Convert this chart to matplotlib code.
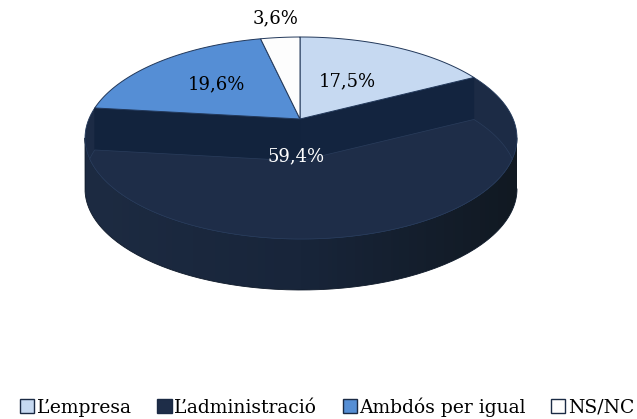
import numpy as np
import matplotlib.pyplot as plt
from matplotlib.patches import Polygon, Patch

categories = ["L’empresa", "L’administració", "Ambdós per igual", "NS/NC"]
values = [17.5, 59.4, 19.6, 3.6]
labels = ["17,5%", "59,4%", "19,6%", "3,6%"]
colors = ["#c6d9f1", "#1e2d48", "#558ed5", "#fdfdfd"]
label_colors = ["black", "white", "black", "black"]
label_r = [0.44, 0.38, 0.52, 1.0]
label_dx = [-2, -19, 0, 0]

# geometria del pastis 3D (pixels)
cx, cy = 301, 138      # centre de l'el.lipse superior
a, b = 216, 101
px, py = 300, 119      # vertex del pastis
wall = 42              # rebaix de la llesca gran
depth = 51             # gruix
edge = "#22385a"


def rim(theta):
    # punt on el raig des del vertex talla la vora
    dx = np.cos(theta) * a
    dy = -np.sin(theta) * b
    ox, oy = px - cx, py - cy
    A = (dx / a) ** 2 + (dy / b) ** 2
    B = 2 * (ox * dx / a**2 + oy * dy / b**2)
    C = (ox / a) ** 2 + (oy / b) ** 2 - 1
    t = (-B + np.sqrt(B * B - 4 * A * C)) / (2 * A)
    return px + t * dx, py + t * dy


def param(x, y):
    return np.arctan2(-(y - cy) / b, (x - cx) / a)


def arc(p0, p1, dy=0, n=120):
    ts = np.linspace(p0, p1, n)
    return np.column_stack([cx + a * np.cos(ts), cy - b * np.sin(ts) + dy])


fig = plt.figure(figsize=(6.37, 4.19), dpi=100)
ax = fig.add_axes([0, 0, 1, 1])
ax.set_xlim(0, 637)
ax.set_ylim(419, 0)
ax.axis("off")

cum = np.concatenate([[0], np.cumsum(values)]) / sum(values)
starts = np.pi / 2 - 2 * np.pi * cum[:-1]
ends = np.pi / 2 - 2 * np.pi * cum[1:]

# costat del cilindre amb degradat
side = np.vstack([arc(0, -np.pi), arc(-np.pi, 0, dy=depth)])
side_poly = Polygon(side, closed=True, facecolor="none", edgecolor="none")
ax.add_patch(side_poly)
grad = np.linspace(0, 1, 256).reshape(1, -1)
cmap = plt.matplotlib.colors.LinearSegmentedColormap.from_list(
    "side", ["#1d2b42", "#18253a", "#111922"])
im = ax.imshow(grad, extent=[cx - a, cx + a, cy + b + depth, cy - b],
               cmap=cmap, aspect="auto", zorder=1)
im.set_clip_path(side_poly)
ax.plot(side[:, 0], side[:, 1], color="#0f1a2a", lw=0.6, zorder=1)

s_int = np.arcsin(wall / (2 * b))

for i, v in enumerate(values):
    x0, y0 = rim(starts[i])
    x1, y1 = rim(ends[i])
    p0 = param(x0, y0)
    p1 = param(x1, y1)
    while p1 > p0:
        p1 -= 2 * np.pi
    if i == 1:
        # llesca gran: vora, parets i cara rebaixada
        full = np.vstack([[px, py], arc(p0, p1), [px, py]])
        ax.add_patch(Polygon(full, closed=True, facecolor="#1c2b45",
                             edgecolor=edge, lw=0.6, zorder=2))
        ax.add_patch(Polygon([[px, py], [x0, y0], [x0, y0 + wall], [px, py + wall]],
                             closed=True, facecolor="#13243f", edgecolor="#13243f",
                             lw=0.4, zorder=3))
        ax.add_patch(Polygon([[px, py], [x1, y1], [x1, y1 + wall], [px, py + wall]],
                             closed=True, facecolor="#12233d", edgecolor="#12233d",
                             lw=0.4, zorder=3))
        face = np.vstack([[px, py + wall],
                          arc(p0, s_int, dy=wall, n=40),
                          arc(-s_int, -np.pi + s_int),
                          arc(-np.pi - s_int, p1, dy=wall, n=20),
                          [px, py + wall]])
        ax.add_patch(Polygon(face, closed=True, facecolor=colors[i],
                             edgecolor="#2a3d5c", lw=0.5, zorder=4))
    else:
        poly = np.vstack([[px, py], arc(p0, p1, n=60), [px, py]])
        ax.add_patch(Polygon(poly, closed=True, facecolor=colors[i],
                             edgecolor=edge, lw=0.7, zorder=5))

    mid = (starts[i] + ends[i]) / 2
    lx = px + label_r[i] * np.cos(mid) * a + label_dx[i]
    ly = py - label_r[i] * np.sin(mid) * b
    ax.text(lx, ly, labels[i], ha="center", va="center", fontsize=13,
            family="DejaVu Serif", color=label_colors[i], zorder=10)

handles = [Patch(facecolor=c, edgecolor="#1a2a44", lw=1.0) for c in colors]
fig.legend(handles, categories, loc="center", bbox_to_anchor=(0.514, 0.029),
           ncol=4, frameon=False, prop={"family": "DejaVu Serif", "size": 13.5},
           handlelength=0.75, handleheight=0.75, handletextpad=0.15,
           columnspacing=1.35, borderaxespad=0)

fig.savefig("out.png", dpi=100)
